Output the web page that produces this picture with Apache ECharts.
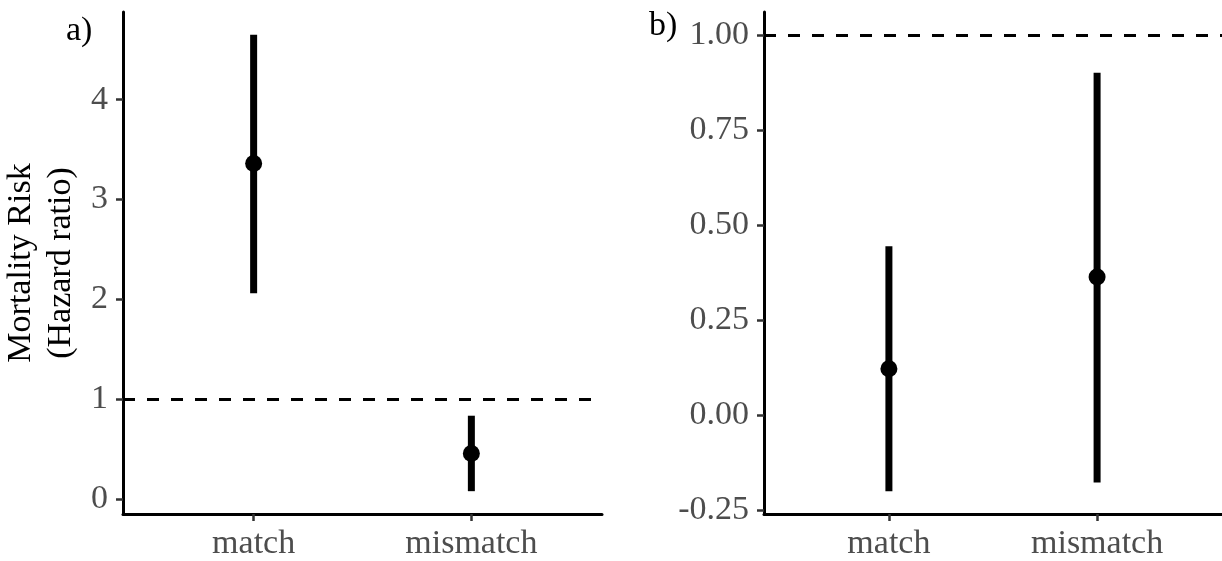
<!DOCTYPE html>
<html>
<head>
<meta charset="utf-8">
<style>
  html, body { margin: 0; padding: 0; background: #ffffff; }
  #chart { width: 1222px; height: 561px; }
</style>
<script src="https://cdn.jsdelivr.net/npm/echarts@6/dist/echarts.min.js"></script>
</head>
<body>
<div id="chart"></div>
<script>
// ---- Data ----
const categories = ['match', 'mismatch'];

// Panel a) Mortality risk (hazard ratio)
const aEstimate = [3.36, 0.455];
const aLower    = [2.06, 0.078];
const aUpper    = [4.65, 0.834];
const aRefLine  = 1;
const aTicks    = [0, 1, 2, 3, 4];

// Panel b)
const bEstimate = [0.122, 0.363];
const bLower    = [-0.200, -0.177];
const bUpper    = [0.444, 0.900];
const bRefLine  = 1;
const bTicks    = [-0.25, 0, 0.25, 0.5, 0.75, 1.0];

const panelLabels = ['a)', 'b)'];
const yTitle = 'Mortality Risk\n(Hazard ratio)';

// ---- Helpers ----
const FONT = '"Liberation Serif", "Times New Roman", serif';
const TICK_LABEL_COLOR = '#4d4d4d';

function expandRange(lo, hi, ref) {
  const mn = Math.min(Math.min.apply(null, lo), ref);
  const mx = Math.max(Math.max.apply(null, hi), ref);
  const pad = (mx - mn) * 0.05;
  return [mn - pad, mx + pad];
}
const aRange = expandRange(aLower, aUpper, aRefLine);
const bRange = expandRange(bLower, bUpper, bRefLine);

const xPos = categories.map((c, i) => i + 1);

function xAxisDef(gridIndex) {
  return {
    type: 'value', gridIndex: gridIndex,
    min: 0.4, max: 2.6,
    splitLine: { show: false },
    axisLine: { show: true, onZero: false, lineStyle: { color: '#000', width: 3 } },
    axisTick: { show: true, customValues: xPos, length: 7, lineStyle: { color: '#333', width: 2.5 } },
    axisLabel: {
      customValues: xPos,
      formatter: v => categories[Math.round(v) - 1] || '',
      color: TICK_LABEL_COLOR, fontFamily: FONT, fontSize: 34, margin: 13
    }
  };
}

function yAxisDef(gridIndex, range, ticks, decimals, name) {
  const ax = {
    type: 'value', gridIndex: gridIndex,
    min: range[0], max: range[1],
    splitLine: { show: false },
    axisLine: { show: true, onZero: false, lineStyle: { color: '#000', width: 3 } },
    axisTick: { show: true, customValues: ticks, length: 7, lineStyle: { color: '#333', width: 2.5 } },
    axisLabel: {
      customValues: ticks,
      formatter: v => Number(v).toFixed(decimals),
      color: TICK_LABEL_COLOR, fontFamily: FONT, fontSize: 34, margin: 15
    }
  };
  if (name) {
    ax.name = name;
    ax.nameLocation = 'middle';
    ax.nameRotate = 90;
    ax.nameGap = 42;
    ax.nameTextStyle = { color: '#000', fontFamily: FONT, fontSize: 34, lineHeight: 40 };
  }
  return ax;
}

function errorBarSeries(idx, lower, upper) {
  return {
    type: 'custom', xAxisIndex: idx, yAxisIndex: idx,
    data: xPos.map((x, i) => [x, lower[i], upper[i]]),
    renderItem: function (params, api) {
      const p1 = api.coord([api.value(0), api.value(1)]);
      const p2 = api.coord([api.value(0), api.value(2)]);
      return {
        type: 'line',
        shape: { x1: p1[0], y1: p1[1], x2: p2[0], y2: p2[1] },
        style: { stroke: '#000', lineWidth: 7 }
      };
    },
    encode: { x: 0, y: [1, 2] },
    silent: true, z: 2
  };
}

function pointSeries(idx, est, ref) {
  return {
    type: 'scatter', xAxisIndex: idx, yAxisIndex: idx,
    data: xPos.map((x, i) => [x, est[i]]),
    symbol: 'circle', symbolSize: 17,
    itemStyle: { color: '#000', opacity: 1 },
    silent: true, z: 3,
    markLine: {
      silent: true, symbol: ['none', 'none'],
      label: { show: false },
      lineStyle: { color: '#000', width: 3, type: [12, 12], opacity: 1 },
      data: [{ yAxis: ref }],
      z: 1
    }
  };
}

const chart = echarts.init(document.getElementById('chart'), null, { renderer: 'canvas' });
chart.setOption({
  backgroundColor: '#ffffff',
  animation: false,
  title: [
    { text: panelLabels[0], left: 61, top: 9, textStyle: { color: '#000', fontFamily: FONT, fontSize: 34, fontWeight: 'normal' } },
    { text: panelLabels[1], left: 644, top: 4, textStyle: { color: '#000', fontFamily: FONT, fontSize: 34, fontWeight: 'normal' } }
  ],
  grid: [
    { left: 123, top: 12, width: 479, height: 503 },
    { left: 764, top: 12, width: 462, height: 503 }
  ],
  xAxis: [xAxisDef(0), xAxisDef(1)],
  yAxis: [
    yAxisDef(0, aRange, aTicks, 0, yTitle),
    yAxisDef(1, bRange, bTicks, 2, null)
  ],
  series: [
    errorBarSeries(0, aLower, aUpper),
    pointSeries(0, aEstimate, aRefLine),
    errorBarSeries(1, bLower, bUpper),
    pointSeries(1, bEstimate, bRefLine)
  ]
});
</script>
</body>
</html>
